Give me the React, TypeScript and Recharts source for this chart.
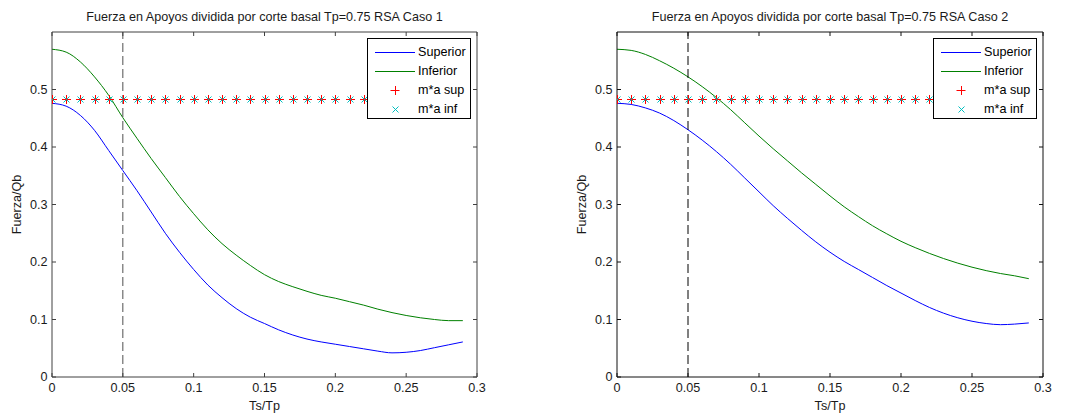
import React from 'react';
import { ComposedChart, Line, Scatter, XAxis, YAxis, ReferenceLine, Legend } from 'recharts';

const tsTp = [0, 0.01, 0.02, 0.03, 0.04, 0.05, 0.06, 0.07, 0.08, 0.09, 0.1, 0.11, 0.12, 0.13, 0.14, 0.15, 0.16, 0.17, 0.18, 0.19, 0.2, 0.21, 0.22, 0.23, 0.24, 0.25, 0.26, 0.27, 0.28, 0.29];

const superior1 = [0.476, 0.471, 0.455, 0.429, 0.394, 0.359, 0.324, 0.287, 0.25, 0.217, 0.187, 0.16, 0.138, 0.119, 0.104, 0.093, 0.082, 0.073, 0.066, 0.061, 0.057, 0.053, 0.049, 0.045, 0.042, 0.043, 0.046, 0.051, 0.056, 0.061];
const inferior1 = [0.57, 0.565, 0.548, 0.522, 0.49, 0.451, 0.415, 0.38, 0.347, 0.314, 0.284, 0.256, 0.232, 0.212, 0.194, 0.178, 0.166, 0.157, 0.149, 0.142, 0.137, 0.131, 0.125, 0.118, 0.112, 0.107, 0.103, 0.1, 0.098, 0.098];
const superior2 = [0.476, 0.474, 0.468, 0.459, 0.446, 0.43, 0.412, 0.392, 0.37, 0.346, 0.322, 0.298, 0.276, 0.255, 0.235, 0.217, 0.201, 0.187, 0.173, 0.159, 0.146, 0.133, 0.121, 0.111, 0.103, 0.097, 0.093, 0.091, 0.092, 0.094];
const inferior2 = [0.57, 0.568, 0.561, 0.55, 0.537, 0.522, 0.505, 0.486, 0.465, 0.442, 0.419, 0.397, 0.376, 0.355, 0.335, 0.315, 0.296, 0.279, 0.263, 0.249, 0.236, 0.225, 0.215, 0.206, 0.198, 0.191, 0.185, 0.18, 0.176, 0.171];
const maSup = [0.483, 0.483, 0.483, 0.483, 0.483, 0.483, 0.483, 0.483, 0.483, 0.483, 0.483, 0.483, 0.483, 0.483, 0.483, 0.483, 0.483, 0.483, 0.483, 0.483, 0.483, 0.483, 0.483, 0.483, 0.483, 0.483, 0.483, 0.483, 0.483, 0.483];
const maInf = [0.483, 0.483, 0.483, 0.483, 0.483, 0.483, 0.483, 0.483, 0.483, 0.483, 0.483, 0.483, 0.483, 0.483, 0.483, 0.483, 0.483, 0.483, 0.483, 0.483, 0.483, 0.483, 0.483, 0.483, 0.483, 0.483, 0.483, 0.483, 0.483, 0.483];

const xTicks = [0, 0.05, 0.1, 0.15, 0.2, 0.25, 0.3];
const yTicks = [0, 0.1, 0.2, 0.3, 0.4, 0.5];
const tpLine = 0.05;
const titles = [
  'Fuerza en Apoyos dividida por corte basal Tp=0.75 RSA Caso 1',
  'Fuerza en Apoyos dividida por corte basal Tp=0.75 RSA Caso 2',
];
const legendNames = ['Superior', 'Inferior', 'm*a sup', 'm*a inf'];

const FONT = "'Liberation Sans', Arial, Helvetica, sans-serif";
const FS = 12.6;
const TEXT = '#1a1a1a';
const BLUE = '#0000FF';
const GREEN = '#008000';
const RED = '#FF0000';
const CYAN = '#00BFBF';

const snap = (v: number) => Math.round(v) + 0.5;

const PlusShape = (p: any) => {
  const { cx, cy } = p;
  if (cx == null || cy == null) return null;
  const x = snap(cx);
  const y = snap(cy);
  return <path d={`M${x - 4.5},${y}H${x + 4.5}M${x},${y - 4.5}V${y + 4.5}`} stroke={RED} strokeWidth={1} fill="none" shapeRendering="crispEdges" />;
};
const CrossShape = (p: any) => {
  const { cx, cy } = p;
  if (cx == null || cy == null) return null;
  const x = snap(cx);
  const y = snap(cy);
  return <path d={`M${x - 3},${y - 3}L${x + 3},${y + 3}M${x - 3},${y + 3}L${x + 3},${y - 3}`} stroke={CYAN} strokeWidth={1} fill="none" />;
};

const LegendBox = () => {
  const rows = [13.3, 32.3, 51.3, 70];
  return (
    <div style={{ width: 104, height: 81, border: '1px solid #000', background: '#fff', boxSizing: 'border-box', position: 'relative', fontFamily: FONT, fontSize: FS, color: '#000' }}>
      {legendNames.map((name, i) => (
        <div key={name} style={{ position: 'absolute', left: 0, top: rows[i] - 9, height: 18, width: 102 }}>
          <svg width={48} height={18} style={{ position: 'absolute', left: 0, top: 0 }}>
            {i === 0 && <line x1={7} x2={47} y1={9.5} y2={9.5} stroke={BLUE} strokeWidth={1} />}
            {i === 1 && <line x1={7} x2={47} y1={9.5} y2={9.5} stroke={GREEN} strokeWidth={1} />}
            {i === 2 && <path d="M22.5,9.5H31.5M27.5,5V14" stroke={RED} strokeWidth={1} fill="none" />}
            {i === 3 && <path d="M24.5,6.5L30.5,12.5M24.5,12.5L30.5,6.5" stroke={CYAN} strokeWidth={1} fill="none" />}
          </svg>
          <span style={{ position: 'absolute', left: 50, top: 0, lineHeight: '18px', whiteSpace: 'nowrap' }}>{name}</span>
        </div>
      ))}
    </div>
  );
};

type PanelProps = {
  left: number;
  width: number;
  marginRight: number;
  title: string;
  sup: number[];
  inf: number[];
  axisColor: string;
  dashColor: string;
  legendLeft: number;
};

const Panel = ({ left, width, marginRight, title, sup, inf, axisColor, dashColor, legendLeft }: PanelProps) => {
  const data = tsTp.map((x, i) => ({ x, sup: sup[i], inf: inf[i], maSup: maSup[i], maInf: maInf[i] }));
  const tickStyle = { fill: TEXT, fontSize: FS, fontFamily: FONT };
  return (
    <div style={{ position: 'absolute', left, top: 0 }}>
      <ComposedChart width={width} height={413} data={data} margin={{ top: 31, right: marginRight - 1, bottom: 0, left: 0 }} style={{ fontFamily: FONT }}>
        <XAxis
          dataKey="x"
          type="number"
          domain={[0, 0.3]}
          ticks={xTicks}
          interval={0}
          height={36}
          tickSize={-4}
          tickMargin={10.5}
          stroke={axisColor}
          tick={tickStyle}
          allowDataOverflow
          label={{ value: 'Ts/Tp', position: 'insideBottom', offset: 3, fill: TEXT, fontSize: FS, fontFamily: FONT }}
        />
        <XAxis
          xAxisId="top"
          dataKey="x"
          orientation="top"
          type="number"
          domain={[0, 0.3]}
          ticks={xTicks}
          interval={0}
          height={1}
          tickSize={-4}
          stroke={axisColor}
          tickFormatter={() => ''}
          allowDataOverflow
          label={{ value: title, position: 'top', offset: 10, fill: TEXT, fontSize: FS, fontFamily: FONT }}
        />
        <YAxis
          type="number"
          domain={[0, 0.6]}
          ticks={yTicks}
          interval={0}
          width={52}
          tickSize={-4}
          tickMargin={8.5}
          stroke={axisColor}
          tick={tickStyle}
          allowDataOverflow
          label={{ value: 'Fuerza/Qb', angle: -90, position: 'insideLeft', offset: 17, fill: TEXT, fontSize: FS, fontFamily: FONT, style: { textAnchor: 'middle' } }}
        />
        <YAxis
          yAxisId="r"
          orientation="right"
          type="number"
          domain={[0, 0.6]}
          ticks={yTicks}
          interval={0}
          width={1}
          tickSize={-4}
          stroke={axisColor}
          tickFormatter={() => ''}
          allowDataOverflow
        />
        <Line xAxisId="top" yAxisId="r" dataKey="sup" type="monotone" stroke="none" strokeWidth={0} dot={false} activeDot={false} isAnimationActive={false} legendType="none" />
        <Line dataKey="sup" type="monotone" stroke={BLUE} strokeWidth={1} dot={false} activeDot={false} isAnimationActive={false} />
        <Line dataKey="inf" type="monotone" stroke={GREEN} strokeWidth={1} dot={false} activeDot={false} isAnimationActive={false} />
        <Scatter dataKey="maSup" shape={PlusShape} isAnimationActive={false} />
        <Scatter dataKey="maInf" shape={CrossShape} isAnimationActive={false} />
        <ReferenceLine x={tpLine} stroke={dashColor} strokeWidth={1} strokeDasharray="9 4" />
        <Legend
          layout="horizontal"
          verticalAlign="middle"
          align="center"
          content={() => <LegendBox />}
          wrapperStyle={{ left: legendLeft, top: 38, width: 104, height: 81, position: 'absolute' }}
        />
      </ComposedChart>
    </div>
  );
};

export default function App() {
  return (
    <div style={{ position: 'absolute', left: 0, top: 0, width: 1069, height: 413, background: '#fff' }}>
      <Panel left={0} width={534} marginRight={57} title={titles[0]} sup={superior1} inf={inferior1} axisColor="#404040" dashColor="#505050" legendLeft={367} />
      <Panel left={565} width={504} marginRight={26} title={titles[1]} sup={superior2} inf={inferior2} axisColor="#111" dashColor="#000" legendLeft={368} />
    </div>
  );
}
